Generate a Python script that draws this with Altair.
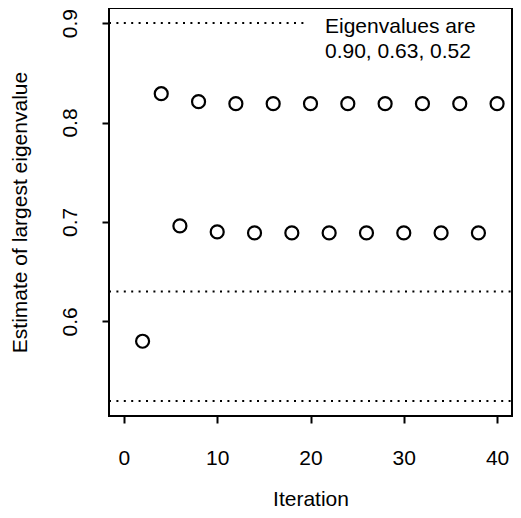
import altair as alt
import pandas as pd

# Data
iterations = [2, 4, 6, 8, 10, 12, 14, 16, 18, 20, 22, 24, 26, 28, 30, 32, 34, 36, 38, 40]
estimates = [0.580, 0.829, 0.696, 0.821, 0.690, 0.819, 0.689, 0.819, 0.689, 0.819,
             0.689, 0.819, 0.689, 0.819, 0.689, 0.819, 0.689, 0.819, 0.689, 0.819]
eigenvalues = [0.90, 0.63, 0.52]
legend_lines = ["Eigenvalues are", "0.90, 0.63, 0.52"]
x_ticks = [0, 10, 20, 30, 40]
y_ticks = [0.6, 0.7, 0.8, 0.9]

W, H = 403, 408
FONT = "Liberation Sans"
FS = 21

pts = pd.DataFrame({"iteration": iterations, "estimate": estimates})
eig_full = pd.DataFrame({"ev": eigenvalues[1:]})
eig_top = pd.DataFrame({"ev": eigenvalues[:1]})
leg = pd.DataFrame({"line": legend_lines})

xscale = alt.Scale(domain=[-1.6, 41.6], nice=False, zero=False)
yscale = alt.Scale(domain=[0.5048, 0.9152], nice=False, zero=False)

xaxis = alt.Axis(values=x_ticks, title="Iteration", grid=False, domain=False,
                 tickSize=7, tickWidth=2, tickColor="black",
                 labelFont=FONT, labelFontSize=FS, labelColor="black",
                 labelBaseline="middle", labelPadding=35, labelFlush=False,
                 titleFont=FONT, titleFontSize=FS, titleFontWeight="normal",
                 titleColor="black", titleBaseline="alphabetic", titleY=89, titleX=W / 2)
yaxis = alt.Axis(values=y_ticks, title="Estimate of largest eigenvalue", grid=False,
                 domain=False, tickSize=7, tickWidth=2, tickColor="black",
                 labelFont=FONT, labelFontSize=FS, labelColor="black",
                 labelAngle=270, labelAlign="center", labelBaseline="middle",
                 labelPadding=32, labelFlush=False, format=".1f",
                 titleFont=FONT, titleFontSize=FS, titleFontWeight="normal",
                 titleColor="black", titleAngle=270, titleAlign="center",
                 titleBaseline="middle", titleX=-89, titleY=H / 2)

points = alt.Chart(pts).mark_point(
    shape="circle", filled=False, color="black", strokeWidth=2.2, size=169, opacity=1
).encode(
    x=alt.X("iteration:Q", scale=xscale, axis=xaxis),
    y=alt.Y("estimate:Q", scale=yscale, axis=yaxis),
)

dots = [2, 5.4]
rules_full = alt.Chart(eig_full).mark_rule(
    color="black", strokeWidth=2, strokeDash=dots
).encode(
    y=alt.Y("ev:Q", scale=yscale), x=alt.value(0), x2=alt.value(W)
)
rule_top = alt.Chart(eig_top).mark_rule(
    color="black", strokeWidth=2, strokeDash=dots
).encode(
    y=alt.Y("ev:Q", scale=yscale), x=alt.value(0), x2=alt.value(195)
)

legend_l1 = alt.Chart(leg.iloc[:1]).mark_text(
    align="left", baseline="middle", font=FONT, fontSize=FS, color="black"
).encode(text="line:N", x=alt.value(216), y=alt.value(19))
legend_l2 = alt.Chart(leg.iloc[1:]).mark_text(
    align="left", baseline="middle", font=FONT, fontSize=FS, color="black"
).encode(text="line:N", x=alt.value(216), y=alt.value(44))

box = alt.Chart(pd.DataFrame({"b": [0]})).mark_rect(
    filled=False, stroke="black", strokeWidth=2, fill=None
).encode(x=alt.value(0), x2=alt.value(W), y=alt.value(0), y2=alt.value(H))

chart = alt.layer(points, rules_full, rule_top, legend_l1, legend_l2, box).properties(
    width=W, height=H,
    autosize=alt.AutoSizeParams(type="none"),
    padding={"left": 101, "top": 0, "right": 1, "bottom": 94},
).configure_view(
    strokeWidth=0
).configure(background="white")

chart.save("out.html", embed_options={"renderer": "svg", "actions": False})
